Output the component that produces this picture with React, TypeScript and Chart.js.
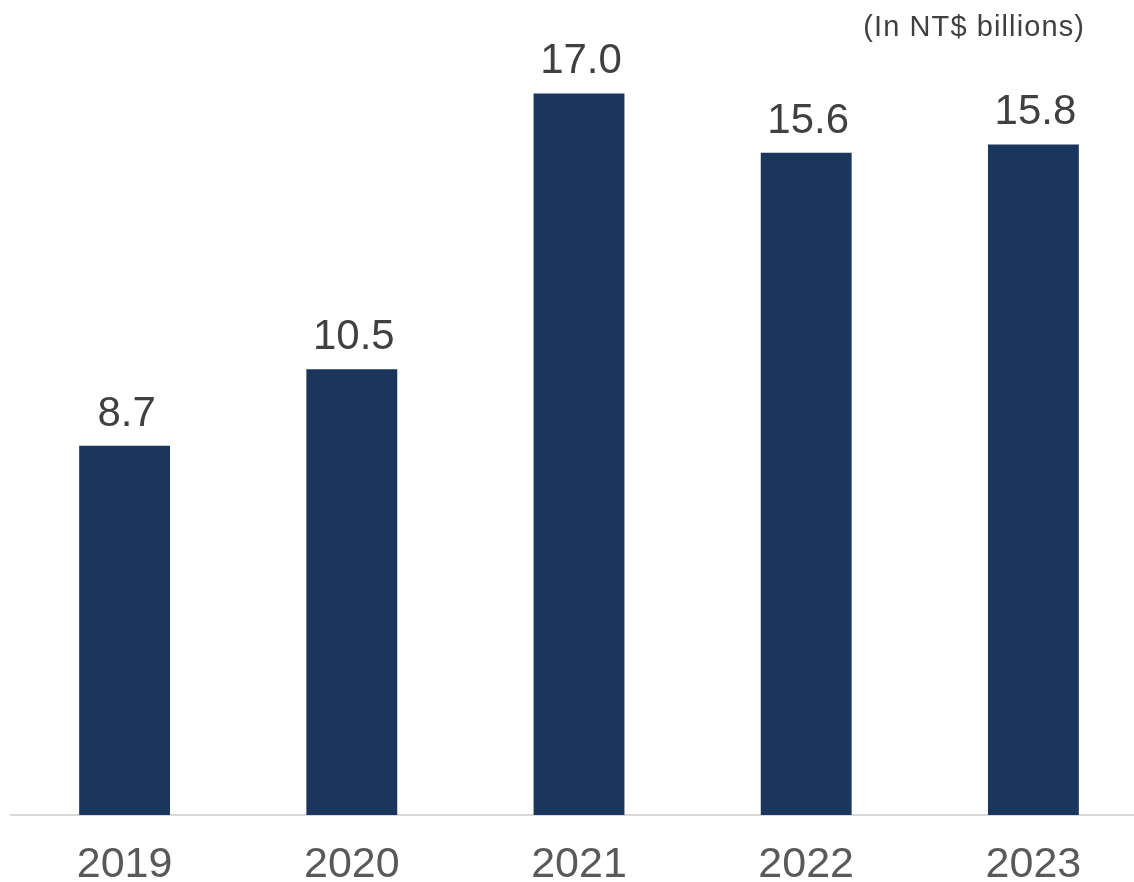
import React, { useEffect, useRef } from "react";
import { Chart, registerables } from "chart.js";

Chart.register(...registerables);

const categories = ["2019", "2020", "2021", "2022", "2023"];
const values = [8.7, 10.5, 17.0, 15.6, 15.8];
const valueLabels = ["8.7", "10.5", "17.0", "15.6", "15.8"];
const unitNote = "(In NT$ billions)";

const FONT = "'Liberation Sans', Arial, sans-serif";

const labelPlugin = {
  id: "valueLabels",
  afterDatasetsDraw(chart: any) {
    const ctx = chart.ctx;
    const meta = chart.getDatasetMeta(0);
    ctx.save();
    ctx.fillStyle = "#404040";
    ctx.font = `42px ${FONT}`;
    ctx.textAlign = "center";
    ctx.textBaseline = "alphabetic";
    meta.data.forEach((bar: any, i: number) => {
      ctx.fillText(valueLabels[i], bar.x + 2, bar.y - 20);
    });
    ctx.font = `29px ${FONT}`;
    (ctx as any).letterSpacing = "1.1px";
    ctx.textAlign = "right";
    ctx.fillText(unitNote, 1085, 36);
    ctx.restore();
  },
};

export default function App() {
  const ref = useRef<HTMLCanvasElement>(null);
  useEffect(() => {
    if (!ref.current) return;
    const chart = new Chart(ref.current, {
      type: "bar",
      data: {
        labels: categories,
        datasets: [
          {
            data: values,
            backgroundColor: "#1B365D",
            borderWidth: 0,
            categoryPercentage: 1,
            barPercentage: 0.4,
          },
        ],
      },
      options: {
        animation: false,
        responsive: true,
        maintainAspectRatio: false,
        layout: { padding: { left: 11, right: 3, top: 51, bottom: 10.4 } },
        plugins: { legend: { display: false }, tooltip: { enabled: false } },
        scales: {
          y: { display: false, min: 0, max: 18 },
          x: {
            grid: { display: false, drawTicks: false, tickLength: 0 },
            border: { display: true, color: "#D9D9D9", width: 2 },
            ticks: {
              color: "#595959",
              padding: 24,
              font: { family: FONT, size: 43 },
            },
          },
        },
      },
      plugins: [labelPlugin],
    });
    return () => chart.destroy();
  }, []);
  return (
    <div
      style={{
        position: "absolute",
        left: 0,
        top: 0,
        width: 1134,
        height: 882,
        overflow: "hidden",
        background: "#fff",
      }}
    >
      <div style={{ position: "relative", width: 1150, height: 925 }}>
        <canvas ref={ref} />
      </div>
    </div>
  );
}
